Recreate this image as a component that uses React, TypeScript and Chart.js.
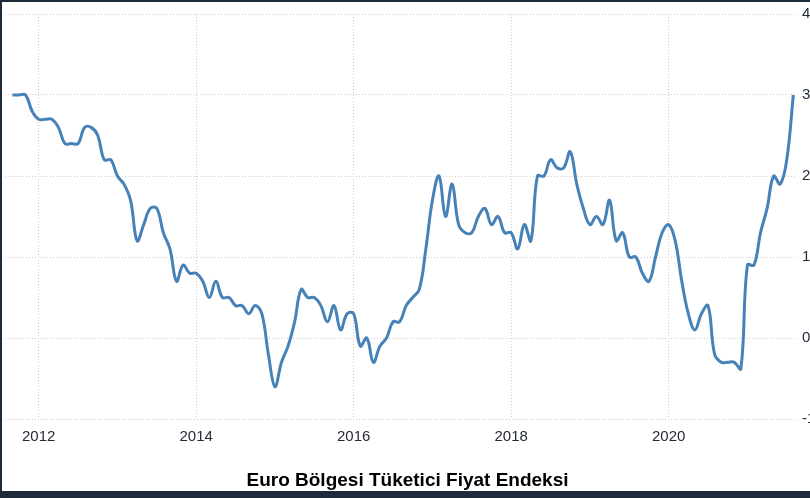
import { useEffect, useRef } from "react";
import { Chart, registerables } from "chart.js";

Chart.register(...registerables);

// Monthly series, Sep 2011 .. Aug 2021 (annual % change)
const firstYear = 2011;
const firstMonth = 9;
const values: number[] = [
  // 2011 Sep-Dec
  3.0, 3.0, 3.0, 2.8,
  // 2012
  2.7, 2.7, 2.7, 2.6, 2.4, 2.4, 2.4, 2.6, 2.6, 2.5, 2.2, 2.2,
  // 2013
  2.0, 1.9, 1.7, 1.2, 1.4, 1.6, 1.6, 1.3, 1.1, 0.7, 0.9, 0.8,
  // 2014
  0.8, 0.7, 0.5, 0.7, 0.5, 0.5, 0.4, 0.4, 0.3, 0.4, 0.3, -0.2,
  // 2015
  -0.6, -0.3, -0.1, 0.2, 0.6, 0.5, 0.5, 0.4, 0.2, 0.4, 0.1, 0.3,
  // 2016
  0.3, -0.1, 0.0, -0.3, -0.1, 0.0, 0.2, 0.2, 0.4, 0.5, 0.6, 1.1,
  // 2017
  1.7, 2.0, 1.5, 1.9, 1.4, 1.3, 1.3, 1.5, 1.6, 1.4, 1.5, 1.3,
  // 2018
  1.3, 1.1, 1.4, 1.2, 2.0, 2.0, 2.2, 2.1, 2.1, 2.3, 1.9, 1.6,
  // 2019
  1.4, 1.5, 1.4, 1.7, 1.2, 1.3, 1.0, 1.0, 0.8, 0.7, 1.0, 1.3,
  // 2020
  1.4, 1.2, 0.7, 0.3, 0.1, 0.3, 0.4, -0.2, -0.3, -0.3, -0.3, -0.38,
  // 2021 Jan-Aug
  0.9, 0.9, 1.3, 1.6, 2.0, 1.9, 2.2, 3.0,
];

const xTickLabels: string[] = ["2012", "2014", "2016", "2018", "2020"];
const yTickValues: number[] = [-1, 0, 1, 2, 3, 4];
const titleText = "Euro Bölgesi Tüketici Fiyat Endeksi";

// month position relative to Jan 2012
const monthIndex = (year: number, month: number) => (year - 2012) * 12 + (month - 1);
const startIdx = monthIndex(firstYear, firstMonth);

const NAVY = "#1c2a3a";
const LINE = "#4682b8";
const GRID = "#cccccc";
const TICK_COLOR = "#262b38";
const TICK_FONT = "'Liberation Sans', Arial, sans-serif";

const framePlugin = {
  id: "frame",
  beforeDraw(chart: any) {
    const { ctx, width, height } = chart;
    ctx.save();
    ctx.fillStyle = NAVY;
    ctx.fillRect(0, 0, width, height);
    ctx.fillStyle = "#ffffff";
    ctx.fillRect(2, 2, width - 2, 489);
    ctx.restore();
  },
  afterDraw(chart: any) {
    const { ctx, width, height } = chart;
    ctx.save();
    ctx.fillStyle = NAVY;
    ctx.fillRect(0, 491, width, height - 491);
    ctx.restore();
  },
};

export default function App() {
  const ref = useRef<HTMLCanvasElement | null>(null);

  useEffect(() => {
    document.body.style.margin = "0";
    const canvas = ref.current;
    if (!canvas) return;
    const data = values.map((v, i) => ({ x: startIdx + i, y: v }));
    const chart = new Chart(canvas, {
      type: "line",
      data: {
        datasets: [
          {
            data,
            borderColor: LINE,
            borderWidth: 3,
            pointRadius: 0,
            tension: 0.4,
            fill: false,
          },
        ],
      },
      options: {
        animation: false,
        responsive: false,
        devicePixelRatio: 1,
        layout: { padding: { left: 5, top: 13, right: 0, bottom: 0 } },
        plugins: {
          legend: { display: false },
          tooltip: { enabled: false },
          title: {
            display: true,
            position: "bottom",
            text: titleText,
            color: "#000",
            font: { family: "'Liberation Sans', Arial, sans-serif", size: 19, weight: "bold" },
            padding: { top: 20.3, bottom: 5.9 },
          },
        },
        scales: {
          x: {
            type: "linear",
            min: -5.136,
            max: 115.56,
            afterBuildTicks: (s: any) => {
              s.ticks = xTickLabels.map((l) => ({ value: monthIndex(parseInt(l, 10), 1) }));
            },
            afterFit: (s: any) => {
              s.height = 30;
            },
            grid: { color: GRID, drawTicks: false, lineWidth: 1 },
            border: { display: false, dash: [1, 2] },
            ticks: {
              padding: 8.5,
              color: TICK_COLOR,
              font: { family: TICK_FONT, size: 15 },
              maxRotation: 0,
              autoSkip: false,
              callback: (_v: any, i: number) => xTickLabels[i],
            },
          },
          y: {
            position: "right",
            min: -1,
            max: 4,
            afterBuildTicks: (s: any) => {
              s.ticks = yTickValues.map((v) => ({ value: v }));
            },
            afterFit: (s: any) => {
              s.width = 13;
            },
            grid: { color: GRID, drawTicks: false, lineWidth: 1 },
            border: { display: false, dash: [1, 2] },
            ticks: {
              padding: 5,
              color: TICK_COLOR,
              font: { family: TICK_FONT, size: 15 },
              autoSkip: false,
              callback: (v: any) => String(v),
            },
          },
        },
      },
      plugins: [framePlugin],
    } as any);
    return () => chart.destroy();
  }, []);

  return (
    <div style={{ width: 810, height: 498 }}>
      <canvas ref={ref} width={810} height={498} style={{ display: "block", width: 810, height: 498 }} />
    </div>
  );
}
